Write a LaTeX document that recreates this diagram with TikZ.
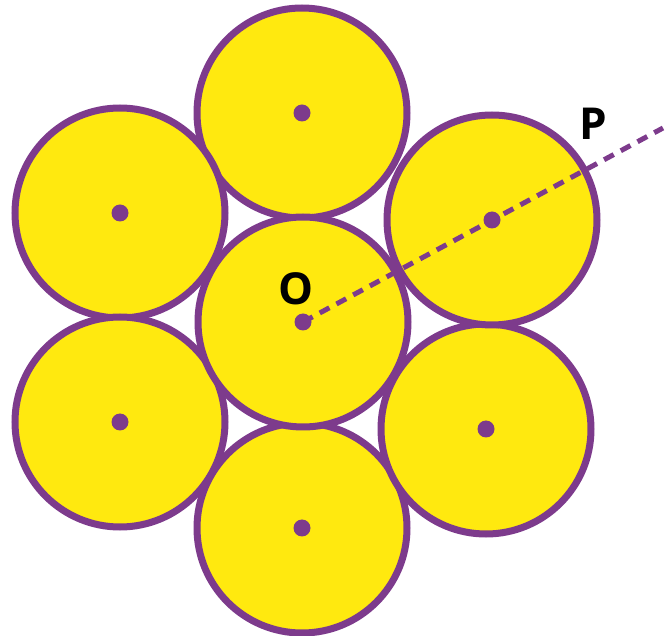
\documentclass[tikz,border=0pt]{standalone}
\usepackage{fontspec}
\setmainfont{Open Sans}
\usetikzlibrary{positioning}
\definecolor{Plum}{HTML}{7D3B8C}
\definecolor{Sun}{HTML}{FFE90F}

\begin{document}
\begin{tikzpicture}[x=1pt,y=-1pt]
    \useasboundingbox (0,0) rectangle (665,636);
    \tikzset{ball/.style={circle,draw=Plum,fill=Sun,line width=7pt,minimum size=210pt,inner sep=0pt},
             dot/.style={circle,fill=Plum,minimum size=17pt,inner sep=0pt},
             lbl/.style={font=\bfseries\fontsize{44}{44}\selectfont,text=black,inner sep=0pt}}
    % the seven balls
    \node[ball] (top) at (302,113) {};
    \node[ball] (lt) at (120,213) {};
    \node[ball] (lb) at (120,422) {};
    \node[ball] (bot) at (302,528) {};
    \node[ball] (rb) at (486,429) {};
    \node[ball] (rt) at (492,220) {};
    \node[ball] (mid) at (303,322) {};
    \coordinate (pend) at (663,128);
    \draw[Plum,line width=5pt,dash pattern=on 11pt off 8pt] (mid.center) -- (pend);
    % centre dots
    \foreach \c in {top,lt,lb,bot,rb,rt,mid}
        \node[dot] at (\c.center) {};
    \node[lbl] (o) at (296,289) {O};
    \node[lbl] (p) at (593,124) {P};
  \end{tikzpicture}
\end{document}
